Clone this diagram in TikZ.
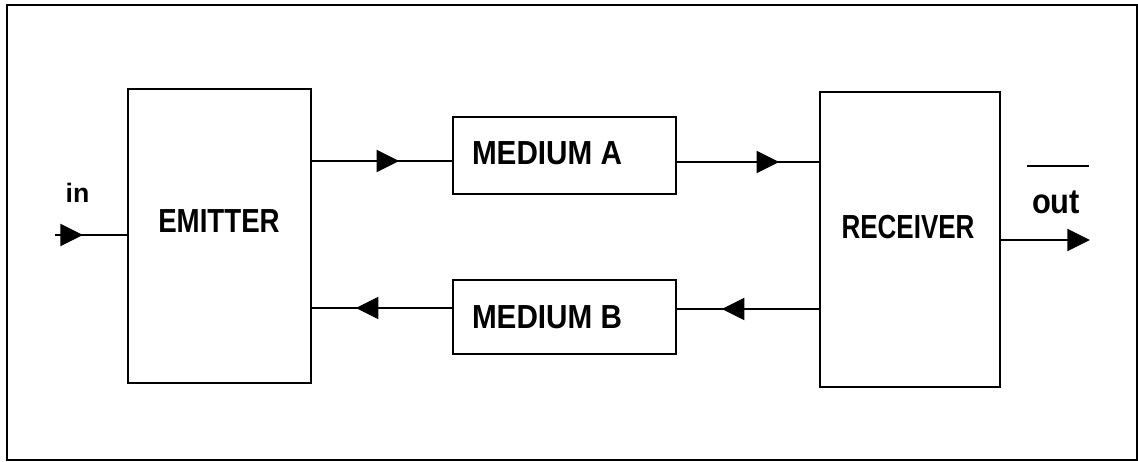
\documentclass[tikz,border=0pt]{standalone}
\usepackage{fontspec}
\setmainfont{Liberation Sans}
\usetikzlibrary{arrows.meta,decorations.markings}
\tikzset{
  box/.style={draw, line width=1.8pt, rectangle, inner sep=0pt},
  lbl/.style={font=\bfseries\fontsize{25}{25}\selectfont, inner sep=0pt},
  conn/.style={line width=1.7pt},
  tip/.tip={Triangle[length=17pt,width=16.5pt]},
  midarrow/.style={postaction={decorate,decoration={markings,
      mark=at position #1 with {\arrow{tip}}}}},
  frame/.style={line width=1.2pt}
}
\begin{document}
\begin{tikzpicture}[x=0.75pt,y=-0.75pt]
\useasboundingbox (0,0) rectangle (1138,461);
\draw[frame] (7,5) rectangle (1137,460);

% boxes
\node[box, minimum width=137.25pt, minimum height=220.5pt] (emitter) at (219.5,236) {};
\node[box, minimum width=167.25pt, minimum height=57.75pt] (medA) at (564.5,155.5) {};
\node[box, minimum width=167.25pt, minimum height=55.5pt] (medB) at (564.5,317) {};
\node[box, minimum width=135pt, minimum height=221.25pt] (receiver) at (910,239.5) {};

% box texts
\node[lbl] (emittertxt) at (219,221) {\scalebox{0.83}[1]{EMITTER}};
\node[lbl] (medAtxt) at (547,153) {\scalebox{0.89}[1]{MEDIUM A}};
\node[lbl] (medBtxt) at (547,317) {\scalebox{0.89}[1]{MEDIUM B}};
\node[lbl] (receivertxt) at (908,227) {\scalebox{0.78}[1]{RECEIVER}};

% in / out labels
\node[font=\bfseries\fontsize{20}{20}\selectfont, inner sep=0pt] (inlbl) at (77.5,193) {in};
\node[font=\bfseries\fontsize{26}{26}\selectfont, inner sep=0pt] (outlbl) at (1056,202) {\scalebox{0.89}[1]{out}};
\coordinate (barL) at (1027,166);
\coordinate (barR) at (1089,166);
\draw[conn] (barL) -- (barR);

% connectors
\coordinate (inS) at (55,235);
\draw[conn, midarrow=21pt] (inS) -- (emitter.west |- inS);
\draw[conn, midarrow=65.25pt] (emitter.east |- 0,161) -- (medA.west |- 0,161);
\draw[conn, midarrow=76.5pt] (medA.east |- 0,162) -- (receiver.west |- 0,162);
\draw[conn, midarrow=72.75pt] (receiver.west |- 0,309) -- (medB.east |- 0,309);
\draw[conn, midarrow=72pt] (medB.west |- 0,308) -- (emitter.east |- 0,308);
\coordinate (outE) at (1090,240);
\draw[conn, -{tip}] (receiver.east |- outE) -- (outE);
\end{tikzpicture}
\end{document}
